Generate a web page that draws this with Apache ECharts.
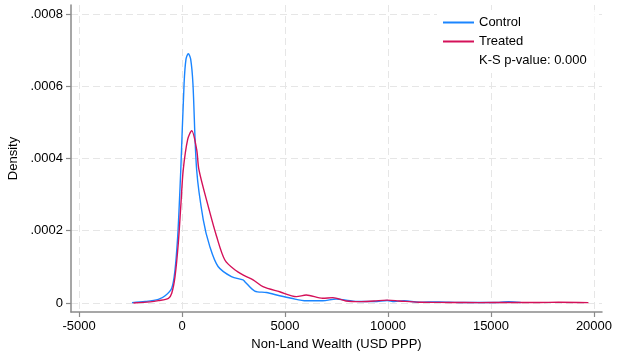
<!DOCTYPE html>
<html>
<head>
<meta charset="utf-8">
<script src="https://cdn.jsdelivr.net/npm/echarts@6/dist/echarts.min.js"></script>
<style>
  html, body { margin: 0; padding: 0; background: #fff; }
  #main { width: 618px; height: 356px; }
</style>
</head>
<body>
<div id="main"></div>
<script>
// kernel density estimates
var controlX = [-2430, -1790, -1150, -820, -500, -340, -210, -130, -60, 100, 193, 305, 420, 530, 710, 1030, 1350, 1750, 2400, 2960, 3050, 3530, 4100, 4740, 5300, 6030, 6830, 7480, 7960, 8610, 9330, 9960, 10300, 10780, 11510, 12480, 13440, 14410, 15380, 15860, 16440];
var controlY = [0.000001, 0.000004, 0.000010, 0.000020, 0.000041, 0.000092, 0.000184, 0.000277, 0.000369, 0.000607, 0.000675, 0.000690, 0.000675, 0.000607, 0.000369, 0.000231, 0.000156, 0.000101, 0.000073, 0.000064, 0.000059, 0.000033, 0.000029, 0.000020, 0.000013, 0.000006, 0.000006, 0.000011, 0.000008, 0.000004, 0.000004, 0.000007, 0.000004, 0.000006, 0.000002, 0.000003, 0.0000015, 0.0000015, 0.0000015, 0.0000035, 0.0000015];

var treatedX = [-2360, -1550, -1150, -660, -500, -340, -180, -50, 60, 275, 470, 710, 820, 1270, 1680, 2080, 2560, 3050, 3450, 3930, 4740, 5550, 6030, 6830, 7320, 7960, 8610, 9330, 9960, 10540, 11510, 12960, 14410, 15860, 17310, 18280, 19730];
var treatedY = [0.0, 0.000003, 0.0000064, 0.000013, 0.000027, 0.000073, 0.000166, 0.000277, 0.000369, 0.000453, 0.000477, 0.000425, 0.000369, 0.000268, 0.000184, 0.000119, 0.000092, 0.000075, 0.000064, 0.000045, 0.000031, 0.0000175, 0.000022, 0.000013, 0.0000147, 0.0000056, 0.0000036, 0.0000056, 0.0000078, 0.0000056, 0.000002, 0.0000015, 0.000001, 0.0000015, 0.0000011, 0.000002, 0.000001];

var xTicks = [-5000, 0, 5000, 10000, 15000, 20000];
var yTicks = [0, 0.0002, 0.0004, 0.0006, 0.0008];
var ksText = 'K-S p-value: 0.000';

function pairs(xs, ys) {
  return xs.map(function (x, i) { return [x, ys[i]]; });
}

var font = 'Liberation Sans, Arial, Helvetica, sans-serif';
var axisGray = '#8a8a8a';
var gridGray = '#e6e6e6';

var chart = echarts.init(document.getElementById('main'), null, { renderer: 'canvas' });
var option = {
  animation: false,
  backgroundColor: '#fff',
  grid: { left: 71, right: 16, top: 5, bottom: 44, containLabel: false, outerBoundsMode: 'none' },
  legend: {
    orient: 'vertical',
    left: 437,
    top: 10,
    padding: [6, 8, 6, 6],
    itemGap: 6,
    itemWidth: 31,
    itemHeight: 2,
    icon: 'rect',
    selectedMode: false,
    backgroundColor: '#fff',
    textStyle: { fontSize: 13, color: '#000', fontFamily: font },
    data: [
      { name: 'Control' },
      { name: 'Treated' },
      { name: ksText, icon: 'none' }
    ]
  },
  xAxis: {
    type: 'value',
    min: -5390,
    max: 20390,
    name: 'Non-Land Wealth (USD PPP)',
    nameLocation: 'middle',
    nameGap: 24,
    nameTextStyle: { fontSize: 13, color: '#000', fontFamily: font },
    axisLine: { show: true, onZero: false, lineStyle: { color: axisGray, width: 1.5 } },
    axisTick: { show: true, length: 5, customValues: xTicks, lineStyle: { color: axisGray, width: 1.2 } },
    axisLabel: {
      customValues: xTicks,
      margin: 8,
      fontSize: 13,
      color: '#000',
      fontFamily: font,
      formatter: function (v) { return String(Math.round(v)); }
    },
    splitLine: { show: true, customValues: xTicks, lineStyle: { color: gridGray, type: [7, 4], width: 1 } }
  },
  yAxis: {
    type: 'value',
    min: -0.000025,
    max: 0.000825,
    name: 'Density',
    nameLocation: 'middle',
    nameGap: 51,
    nameTextStyle: { fontSize: 13, color: '#000', fontFamily: font },
    axisLine: { show: true, onZero: false, lineStyle: { color: axisGray, width: 1.5 } },
    axisTick: { show: true, length: 5, customValues: yTicks, lineStyle: { color: axisGray, width: 1.2 } },
    axisLabel: {
      customValues: yTicks,
      margin: 8,
      fontSize: 13,
      color: '#000',
      fontFamily: font,
      formatter: function (v) {
        if (Math.abs(v) < 1e-12) return '0';
        return v.toFixed(4).replace(/^0/, '');
      }
    },
    splitLine: { show: true, customValues: yTicks, lineStyle: { color: gridGray, type: [7, 4], width: 1 } }
  },
  series: [
    {
      name: 'Control',
      type: 'line',
      data: pairs(controlX, controlY),
      showSymbol: false,
      smooth: 0.3,
      color: '#1a85ff',
      lineStyle: { color: '#1a85ff', width: 1.4 }
    },
    {
      name: 'Treated',
      type: 'line',
      data: pairs(treatedX, treatedY),
      showSymbol: false,
      smooth: 0.3,
      color: '#d41159',
      lineStyle: { color: '#d41159', width: 1.4 }
    },
    {
      name: ksText,
      type: 'line',
      data: [],
      color: '#fff'
    }
  ]
};
chart.setOption(option);
window.addEventListener('resize', function () { chart.resize(); });
</script>
</body>
</html>
